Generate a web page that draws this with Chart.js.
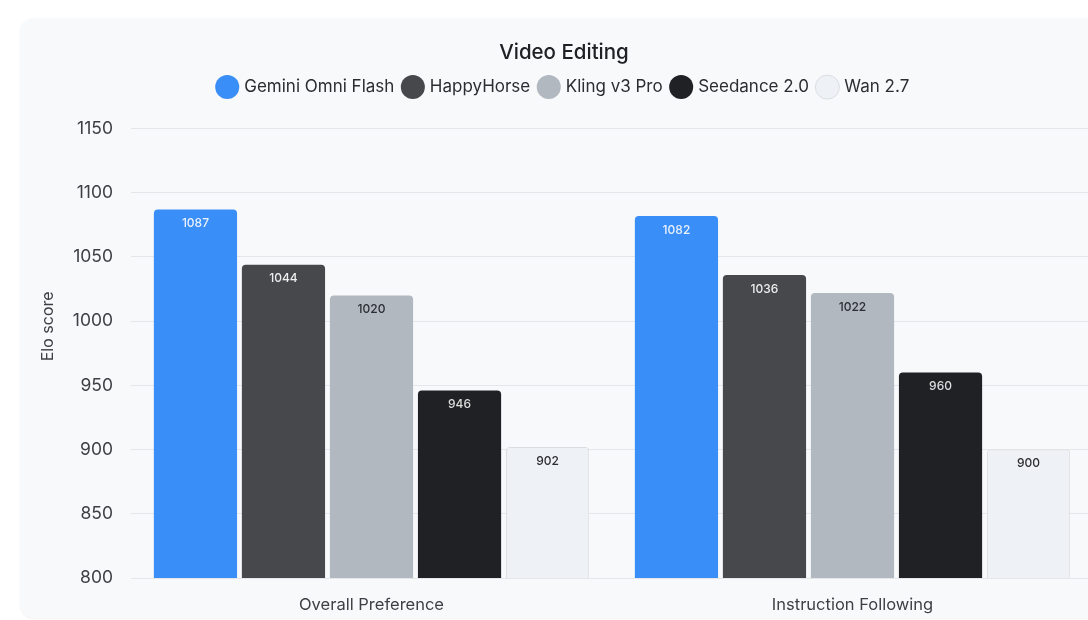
<!DOCTYPE html>
<html>
<head>
<meta charset="utf-8">
<script src="https://cdn.jsdelivr.net/npm/chart.js@4"></script>
<style>
  html, body { margin: 0; padding: 0; background: #ffffff; overflow: hidden; }
  body { width: 1088px; height: 620px; position: relative; }
  #card {
    position: absolute; left: 20px; top: 18px; width: 1092px; height: 600px;
    background: #f8f9fb; border-radius: 14px;
    box-shadow: 0 1px 2px rgba(0,0,0,0.06);
  }
</style>
</head>
<body>
<div id="card"><canvas id="myChart"></canvas></div>
<script>
var categories = ['Overall Preference', 'Instruction Following'];
var models = ['Gemini Omni Flash', 'HappyHorse', 'Kling v3 Pro', 'Seedance 2.0', 'Wan 2.7'];
var geminiOmniFlash = [1087, 1082];
var happyHorse = [1044, 1036];
var klingV3Pro = [1020, 1022];
var seedance20 = [946, 960];
var wan27 = [902, 900];
var yTicks = [800, 850, 900, 950, 1000, 1050, 1100, 1150];
var yTitle = 'Elo score';

var seriesValues = [geminiOmniFlash, happyHorse, klingV3Pro, seedance20, wan27];
var barColors = ['#3a8ef7', '#47484c', '#b1b8c0', '#202124', '#eef1f5'];
var borderColors = ['#3a8ef7', '#47484c', '#b1b8c0', '#202124', '#d9dde2'];
var labelColors = ['#eaf2fe', '#eeeeee', '#2b2d31', '#dddddd', '#2b2d31'];
var fontName = 'Inter, "Open Sans", sans-serif';

// value labels drawn inside each bar, near its top
var valueLabels = {
    id: 'valueLabels',
    afterDatasetsDraw: function (chart) {
        var ctx = chart.ctx;
        ctx.save();
        ctx.font = '500 12px ' + fontName;
        ctx.textAlign = 'center';
        ctx.textBaseline = 'middle';
        chart.data.datasets.forEach(function (ds, i) {
            var meta = chart.getDatasetMeta(i);
            if (meta.hidden) return;
            meta.data.forEach(function (bar, j) {
                ctx.fillStyle = labelColors[i];
                ctx.fillText(ds.data[j], bar.x, bar.y + 14);
            });
        });
        ctx.restore();
    }
};

// y axis title, sitting a bit above the middle of the plot like the original
var axisTitle = {
    id: 'axisTitle',
    afterDraw: function (chart) {
        var ctx = chart.ctx;
        var area = chart.chartArea;
        ctx.save();
        ctx.translate(28, area.top + area.height * 0.44);
        ctx.rotate(-Math.PI / 2);
        ctx.font = '16px ' + fontName;
        ctx.fillStyle = '#3c3f44';
        ctx.textAlign = 'center';
        ctx.textBaseline = 'middle';
        ctx.fillText(yTitle, 0, 0);
        ctx.restore();
    }
};

// extra room between legend and plot
var legendGap = {
    id: 'legendGap',
    beforeInit: function (chart) {
        var fit = chart.legend.fit;
        chart.legend.fit = function () {
            fit.call(this);
            this.height += 23;
        };
    }
};

var datasets = models.map(function (name, i) {
    return {
        label: name,
        data: seriesValues[i],
        backgroundColor: barColors[i],
        borderColor: borderColors[i],
        borderWidth: i === 4 ? 1 : 0,
        borderSkipped: 'bottom',
        borderRadius: { topLeft: 4, topRight: 4, bottomLeft: 0, bottomRight: 0 },
        barPercentage: 0.945,
        categoryPercentage: 0.915
    };
});

var ctx = document.getElementById('myChart').getContext('2d');
var myChart = new Chart(ctx, {
    type: 'bar',
    data: {
        labels: categories,
        datasets: datasets
    },
    options: {
        responsive: true,
        maintainAspectRatio: false,
        animation: false,
        layout: {
            padding: { top: 22, right: 19, bottom: 4, left: 15 }
        },
        plugins: {
            title: {
                display: true,
                text: 'Video Editing',
                color: '#202124',
                font: { family: fontName, size: 20.5, weight: '500' },
                padding: { top: 1, bottom: 3 }
            },
            legend: {
                display: true,
                labels: {
                    usePointStyle: true,
                    pointStyle: 'circle',
                    boxWidth: 19,
                    boxHeight: 19,
                    padding: 10,
                    color: '#2b2d31',
                    font: { family: fontName, size: 17 }
                }
            },
            tooltip: { enabled: false }
        },
        scales: {
            x: {
                afterFit: function (scale) {
                    scale.height = 36;
                },
                grid: { display: false, drawTicks: false },
                border: { display: false },
                ticks: {
                    color: '#3c3f44',
                    padding: 17,
                    font: { family: fontName, size: 16.5 }
                }
            },
            y: {
                min: yTicks[0],
                max: yTicks[yTicks.length - 1],
                afterBuildTicks: function (scale) {
                    scale.ticks = yTicks.map(function (v) { return { value: v }; });
                },
                afterFit: function (scale) {
                    scale.width = 96;
                },
                grid: { color: '#e4e6e9', lineWidth: 1, drawTicks: false },
                border: { display: false },
                ticks: {
                    color: '#3c3f44',
                    padding: 18,
                    font: { family: fontName, size: 17.5 },
                    callback: function (value) { return String(value); }
                }
            }
        }
    },
    plugins: [valueLabels, axisTitle, legendGap]
});
</script>
</body>
</html>
